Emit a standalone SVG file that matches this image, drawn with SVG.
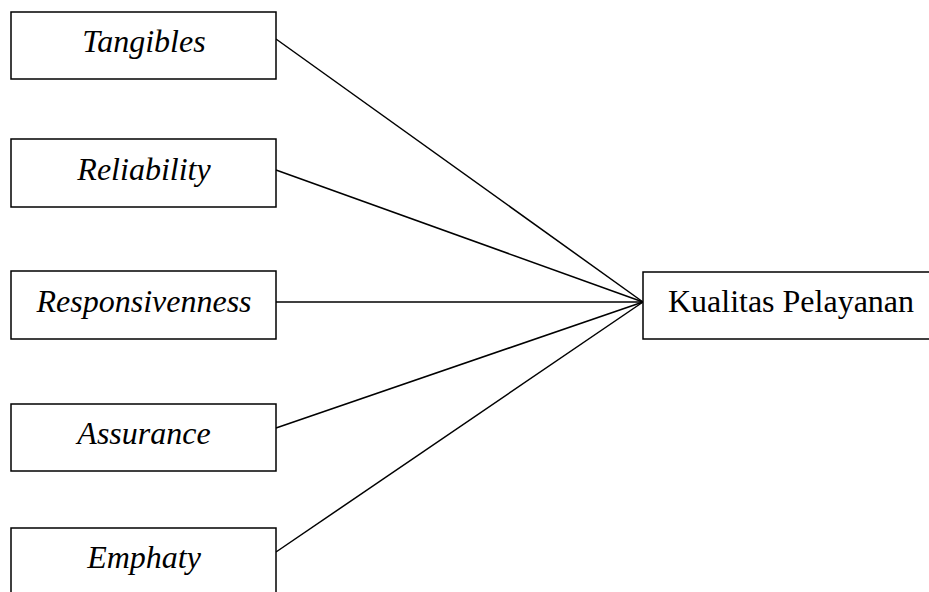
<svg xmlns="http://www.w3.org/2000/svg" width="929" height="592" viewBox="0 0 929 592">
<style>
rect{fill:#fff;stroke:#000;stroke-width:1.5}
line{stroke:#000;stroke-width:1.5}
text{font-family:"Liberation Serif","Times New Roman",serif;font-size:32px;text-anchor:middle;fill:#000}
.i{font-style:italic}
</style>
<rect x="0" y="0" width="929" height="592" style="stroke:none"/>
<g id="connectors">
<line x1="276" y1="39" x2="643" y2="302"/>
<line x1="276" y1="170" x2="643" y2="302"/>
<line x1="276" y1="302" x2="643" y2="302"/>
<line x1="276" y1="428" x2="643" y2="302"/>
<line x1="276" y1="552" x2="643" y2="302"/>
</g>
<g id="tangibles"><rect x="11" y="12" width="265" height="67"/><text class="i" x="144" y="52">Tangibles</text></g>
<g id="reliability"><rect x="11" y="139" width="265" height="68"/><text class="i" x="144" y="180">Reliability</text></g>
<g id="responsiveness"><rect x="11" y="271" width="265" height="68"/><text class="i" x="144" y="312">Responsivenness</text></g>
<g id="assurance"><rect x="11" y="404" width="265" height="67"/><text class="i" x="144" y="444">Assurance</text></g>
<g id="emphaty"><rect x="11" y="528" width="265" height="67"/><text class="i" x="144" y="568">Emphaty</text></g>
<g id="kualitas"><rect x="643" y="272" width="296" height="67"/><text x="791" y="312">Kualitas Pelayanan</text></g>
</svg>
